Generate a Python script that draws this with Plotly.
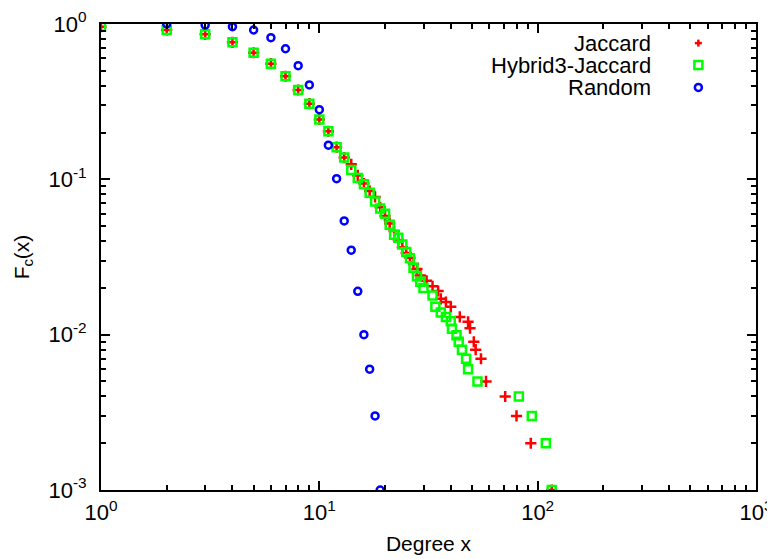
import plotly.graph_objects as go

# Jaccard
jac_x = [1, 2, 3, 4, 5, 6, 7, 8, 9, 10, 11, 12, 13, 14, 15, 16, 17, 18, 19, 20,
         21, 22, 23, 24, 25, 26, 27, 28, 29, 31, 33, 35, 36, 38, 40, 44, 48, 49,
         51, 52, 55, 58, 71, 80, 93, 116]
jac_y = [0.96, 0.915, 0.858, 0.762, 0.653, 0.555, 0.461, 0.376, 0.307, 0.243,
         0.204, 0.161, 0.138, 0.125, 0.106, 0.094, 0.084, 0.077, 0.066, 0.058,
         0.052, 0.0465, 0.0407, 0.0365, 0.0335, 0.0313, 0.0285, 0.0265, 0.024,
         0.0222, 0.0205, 0.0191, 0.017, 0.0162, 0.0151, 0.013, 0.0121, 0.011,
         0.009, 0.008, 0.007, 0.005, 0.004, 0.003, 0.002, 0.001]

# Hybrid3-Jaccard
hyb_x = [1, 2, 3, 4, 5, 6, 7, 8, 9, 10, 11, 12, 13, 14, 15, 16, 17, 18, 19, 20,
         21, 22, 23, 24, 25, 26, 27, 28, 29, 30, 33, 34, 36, 38, 40, 40.5, 42.5,
         43.5, 45, 47, 48, 53, 82, 94, 109, 116]
hyb_y = [0.96, 0.915, 0.858, 0.762, 0.653, 0.555, 0.461, 0.376, 0.307, 0.243,
         0.204, 0.161, 0.138, 0.115, 0.102, 0.093, 0.082, 0.072, 0.065, 0.060,
         0.051, 0.044, 0.042, 0.038, 0.034, 0.031, 0.027, 0.0238, 0.0219, 0.020,
         0.0179, 0.0151, 0.0139, 0.0130, 0.0122, 0.0109, 0.0099, 0.0090, 0.0080,
         0.0070, 0.0060, 0.0050, 0.0040, 0.0030, 0.0020, 0.0010]

# Random
rnd_x = [2, 3, 4, 5, 6, 7, 8, 9, 10, 11, 12, 13, 14, 15, 16, 17, 18, 19]
rnd_y = [1.0, 0.985, 0.961, 0.915, 0.816, 0.693, 0.539, 0.405, 0.281, 0.166,
         0.101, 0.054, 0.035, 0.019, 0.010, 0.006, 0.003, 0.001]

series_names = ["Jaccard", "Hybrid3-Jaccard", "Random"]

x_tickvals = [1, 10, 100, 1000]
x_ticktext = ["10<sup>0</sup>", "10<sup>1</sup>", "10<sup>2</sup>", "10<sup>3</sup>"]
y_tickvals = [0.001, 0.01, 0.1, 1]
y_ticktext = ["10<sup>-3</sup>", "10<sup>-2</sup>", "10<sup>-1</sup>", "10<sup>0</sup>"]

x_minor = [m * d for d in (1, 10, 100) for m in range(2, 10)]
y_minor = [m * d for d in (0.001, 0.01, 0.1) for m in range(2, 10)]

FONT = "Liberation Sans, Arial, sans-serif"
RED, GREEN, BLUE = "#ff0000", "#00ff00", "#0000ff"

fig = go.Figure()
fig.add_trace(go.Scatter(
    x=jac_x, y=jac_y, mode="markers", name=series_names[0],
    marker=dict(symbol="cross-thin", size=8, color=RED,
                line=dict(color=RED, width=2.5))))
fig.add_trace(go.Scatter(
    x=hyb_x, y=hyb_y, mode="markers", name=series_names[1],
    marker=dict(symbol="square-open", size=8, color=GREEN,
                line=dict(color=GREEN, width=2.5))))
fig.add_trace(go.Scatter(
    x=rnd_x, y=rnd_y, mode="markers", name=series_names[2],
    marker=dict(symbol="circle-open", size=7, color=BLUE,
                line=dict(color=BLUE, width=2.5))))

axis_common = dict(
    type="log", showgrid=False, zeroline=False, automargin=False,
    showline=True, linecolor="black", linewidth=2, mirror="ticks",
    ticks="inside", ticklen=9, tickwidth=1.5, tickcolor="black",
    tickfont=dict(family=FONT, size=22, color="black"),
)

fig.update_xaxes(
    **axis_common, range=[0, 3], tickvals=x_tickvals, ticktext=x_ticktext,
    ticklabelstandoff=2,
    minor=dict(ticks="inside", ticklen=5, tickwidth=1.5, tickcolor="black", tickvals=x_minor),
    title=dict(text="Degree x", standoff=12,
               font=dict(family=FONT, size=21, color="black")),
)
fig.update_yaxes(
    **axis_common, range=[-3, 0], tickvals=y_tickvals, ticktext=y_ticktext,
    ticklabelstandoff=8,
    minor=dict(ticks="inside", ticklen=5, tickwidth=1.5, tickcolor="black", tickvals=y_minor),
    title=dict(text="F<sub>c</sub>(x)", standoff=13,
               font=dict(family=FONT, size=21, color="black")),
)

# gnuplot-style key: right-aligned text with the sample symbol to its right
key_text_x = 0.8434
key_sym_x = 0.912
key_rows_y = [0.959, 0.912, 0.864]
annotations = []
shapes = []
for name, ky in zip(series_names, key_rows_y):
    annotations.append(dict(text=name, xref="paper", yref="paper", x=key_text_x, y=ky,
                            xanchor="right", yanchor="middle", showarrow=False,
                            font=dict(family=FONT, size=22, color="black")))
common = dict(xref="paper", yref="paper", xsizemode="pixel", ysizemode="pixel",
              xanchor=key_sym_x)
# Jaccard plus
shapes.append(dict(type="line", yanchor=key_rows_y[0], x0=-3.5, x1=3.5, y0=0, y1=0,
                   line=dict(color=RED, width=2.5), **common))
shapes.append(dict(type="line", yanchor=key_rows_y[0], x0=0, x1=0, y0=-3.5, y1=3.5,
                   line=dict(color=RED, width=2.5), **common))
# Hybrid square
shapes.append(dict(type="rect", yanchor=key_rows_y[1], x0=-4, x1=4, y0=-4, y1=4,
                   line=dict(color=GREEN, width=2.5), fillcolor="white", **common))
# Random circle
shapes.append(dict(type="circle", yanchor=key_rows_y[2], x0=-3.5, x1=3.5, y0=-3.5, y1=3.5,
                   line=dict(color=BLUE, width=2.5), fillcolor="white", **common))

fig.update_layout(
    width=775, height=559,
    margin=dict(l=93, r=27, t=16, b=77, autoexpand=False),
    paper_bgcolor="white", plot_bgcolor="white",
    showlegend=False,
    annotations=annotations,
    shapes=shapes,
)

fig.write_html("out.html")
